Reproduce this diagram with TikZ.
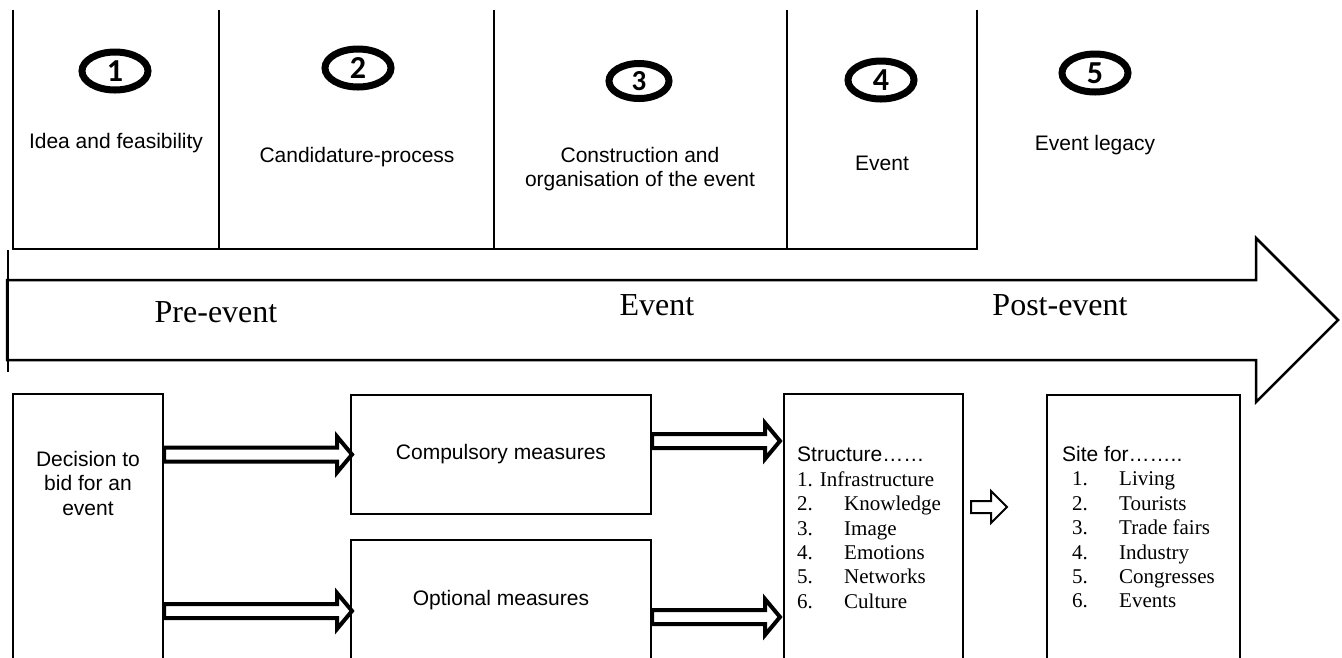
\documentclass[tikz,border=0pt]{standalone}
\usepackage{fontspec}
\setmainfont{Liberation Serif}
\newfontfamily\arialf{Liberation Sans}
\newfontfamily\numf{Carlito}
\usetikzlibrary{calc,shapes.geometric}

% hollow block arrow: [style]{start}{tip}{shaft half}{head half}{head length}
\newcommand\blockarrow[6][]{%
  \path[#1] let \p1=(#2), \p2=(#3) in
    (\x1,{\y1+#4}) -- ({\x2-#6},{\y1+#4}) -- ({\x2-#6},{\y1+#5}) -- (\x2,\y1)
    -- ({\x2-#6},{\y1-#5}) -- ({\x2-#6},{\y1-#4}) -- (\x1,{\y1-#4}) -- cycle;}

\begin{document}
\begin{tikzpicture}[x=1pt,y=-1pt,
  frame/.style={line width=2pt},
  stage/.style={draw=none, inner sep=0pt, minimum height=239pt},
  badge/.style={ellipse, draw, line width=7pt, minimum width=66pt, minimum height=38pt,
    inner sep=0pt, font=\numf\bfseries\fontsize{32}{32}\selectfont},
  sans/.style={font=\arialf\fontsize{21}{24.5}\selectfont, inner sep=0pt},
  phase/.style={font=\fontsize{32}{36}\selectfont, inner sep=0pt},
  box/.style={draw, line width=2pt, inner sep=0pt},
  listtext/.style={anchor=north west, inner sep=0pt, align=left,
    font=\fontsize{21}{24.4}\selectfont},
  fat/.style={draw, line width=4pt, fill=white, line join=miter},
  slim/.style={draw, line width=2pt, fill=white, line join=miter}]

\useasboundingbox (0,0) rectangle (1342,657);
\clip (0,0) rectangle (1342,657);

% ---- stages of the event cycle ----
\node[stage, minimum width=206pt] (p1) at (116,129.5) {};
\node[stage, minimum width=275pt] (p2) at (356.5,129.5) {};
\node[stage, minimum width=293pt] (p3) at (640.5,129.5) {};
\node[stage, minimum width=190pt] (p4) at (882,129.5) {};
\draw[frame] (p1.north west) -- (p1.south west) -- (p4.south east) -- (p4.north east);
\draw[frame] (p1.north east) -- (p1.south east);
\draw[frame] (p2.north east) -- (p2.south east);
\draw[frame] (p3.north east) -- (p3.south east);

\node[badge] (n1) at (115,71) {1};
\node[badge] (n2) at (358,68) {2};
\node[badge, minimum width=60pt, minimum height=35pt, font=\numf\bfseries\fontsize{29}{29}\selectfont] (n3) at (639,81) {3};
\node[badge] (n4) at (881,80) {4};
\node[badge] (n5) at (1095,73) {5};

\node[sans] (t1) at (116,143) {Idea and feasibility};
\node[sans] (t2) at (357,157) {Candidature-process};
\node[sans, align=center] (t3) at (640,169) {Construction and\\organisation of the event};
\node[sans] (t4) at (882,163) {Event};
\node[sans] (t5) at (1095,145) {Event legacy};

% ---- time line ----
\draw[line width=2.5pt, line join=miter] (7,280) -- (1256,280) -- (1256,238) -- (1338,320)
  -- (1256,402) -- (1256,360) -- (7,360) -- cycle;
\draw[frame] (8,250) -- (8,372);
\node[phase] (pre) at (216,312) {Pre-event};
\node[phase] (ev) at (657,305) {Event};
\node[phase] (post) at (1060,305) {Post-event};

% ---- measures and legacy ----
\node[box, minimum width=150pt, minimum height=300pt] (dec) at (88,544) {};
\node[sans, align=center] (dect) at (88,483) {Decision to\\bid for an\\event};

\node[box, minimum width=300pt, minimum height=119pt, sans] (comp) at (501,454.5) {Compulsory measures};
\node[box, minimum width=300pt, minimum height=142pt] (opt) at (501,611) {};
\node[sans] (optt) at (501,600) {Optional measures};

\node[box, minimum width=179pt, minimum height=300pt] (struct) at (873.5,544) {};
\node[listtext] (structt) at (797,447) {{\arialf Structure……}\\
  1. Infrastructure\\
  \makebox[47pt][l]{2.}Knowledge\\
  \makebox[47pt][l]{3.}Image\\
  \makebox[47pt][l]{4.}Emotions\\
  \makebox[47pt][l]{5.}Networks\\
  \makebox[47pt][l]{6.}Culture};

\node[box, minimum width=193pt, minimum height=300pt] (site) at (1143.5,545) {};
\node[listtext] (sitet) at (1062,446) {{\arialf Site for……..}\\
  \hspace*{10pt}\makebox[47pt][l]{1.}Living\\
  \hspace*{10pt}\makebox[47pt][l]{2.}Tourists\\
  \hspace*{10pt}\makebox[47pt][l]{3.}Trade fairs\\
  \hspace*{10pt}\makebox[47pt][l]{4.}Industry\\
  \hspace*{10pt}\makebox[47pt][l]{5.}Congresses\\
  \hspace*{10pt}\makebox[47pt][l]{6.}Events};

% ---- connectors ----
\coordinate (a1) at (dec.east |- comp.west);
\coordinate (a2) at (dec.east |- opt.west);
\coordinate (a3) at ([yshift=-47pt]comp.north east);
\coordinate (a4) at ([yshift=-78pt]opt.north east);
\coordinate (a5) at ([yshift=-113pt]site.north west);
\coordinate (a5s) at ([xshift=7pt]struct.east |- a5);

\blockarrow[fat]{a1}{[xshift=2pt]comp.west}{7pt}{18pt}{15pt}
\blockarrow[fat]{a2}{[xshift=2pt]opt.west}{7pt}{18pt}{15pt}
\blockarrow[fat]{a3}{[xshift=-3pt]struct.west |- a3}{7pt}{18pt}{15pt}
\blockarrow[fat]{a4}{[xshift=-3pt]struct.west |- a4}{7pt}{18pt}{15pt}
\blockarrow[slim]{a5s}{[xshift=-39pt]a5}{6pt}{16pt}{16pt}

\end{tikzpicture}
\end{document}
